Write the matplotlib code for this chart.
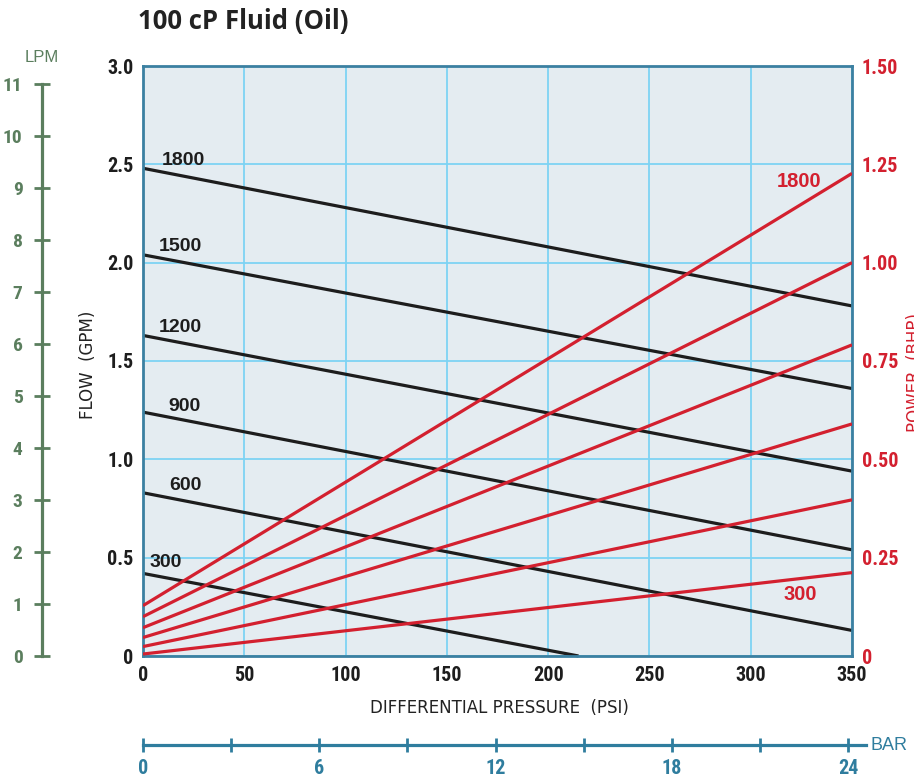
import matplotlib
matplotlib.use("Agg")
import matplotlib.pyplot as plt
from matplotlib import font_manager

# ---------------------------- Data -----------------------------------
speeds = [1800, 1500, 1200, 900, 600, 300]          # RPM for each curve pair
flow_psi_end = [350, 350, 350, 350, 350, 215]       # 300 rpm flow hits zero early
flow_start = [2.48, 2.04, 1.63, 1.24, 0.83, 0.42]   # GPM at 0 psi
flow_end = [1.78, 1.36, 0.94, 0.54, 0.13, 0.0]      # GPM at end psi
power_start = [0.128, 0.100, 0.072, 0.047, 0.024, 0.005]  # BHP at 0 psi
power_end = [1.227, 1.000, 0.791, 0.590, 0.397, 0.212]    # BHP at 350 psi
red_labeled = [1800, 300]

psi_ticks = [0, 50, 100, 150, 200, 250, 300, 350]
gpm_ticks = [0, 0.5, 1.0, 1.5, 2.0, 2.5, 3.0]
gpm_labels = ["0", "0.5", "1.0", "1.5", "2.0", "2.5", "3.0"]
bhp_ticks = [0, 0.25, 0.5, 0.75, 1.0, 1.25, 1.5]
bhp_labels = ["0", "0.25", "0.50", "0.75", "1.00", "1.25", "1.50"]
lpm_ticks = list(range(0, 12))
bar_ticks = [0, 3, 6, 9, 12, 15, 18, 21, 24]
bar_labels = ["0", "", "6", "", "12", "", "18", "", "24"]

LPM_PER_GPM = 3.785
PSI_PER_BAR = 14.504

# ---------------------------- Style ----------------------------------
RED = "#d3202f"
BLACK = "#1d1d1d"
GREEN = "#5b7e5e"
BLUE = "#2f7d9e"
SPINE = "#3b80a1"
GRID = "#7dd3f4"
BG = "#e4ecf1"

names = {f.name for f in font_manager.fontManager.ttflist}


def pick(cands):
    for c in cands:
        if c in names:
            return c
    return "DejaVu Sans"


COND = pick(["Liberation Sans Narrow", "Roboto Condensed", "DejaVu Sans Condensed",
             "Open Sans Condensed", "Roboto", "Liberation Sans"])
SANS = pick(["Liberation Sans"])
TITLE_FONT = pick(["Open Sans", "Lato"])

W, H = 914, 781


def fx(px):
    return px / W


def fy(py):
    return 1 - py / H


fig = plt.figure(figsize=(W / 100, H / 100), dpi=100)

# ----- main axes (flow) -----
ax = fig.add_axes([fx(143), fy(656), 709 / W, 590 / H])
ax.set_facecolor(BG)
ax.set_xlim(0, 350)
ax.set_ylim(0, 3.0)
ax.set_xticks(psi_ticks)
ax.set_yticks(gpm_ticks)
ax.set_yticklabels(gpm_labels)
ax.grid(True, color=GRID, lw=1.3)
ax.set_axisbelow(True)
for s in ax.spines.values():
    s.set_color(SPINE)
    s.set_linewidth(2.0)
ax.tick_params(length=0, pad=7, labelsize=14.5, labelcolor=BLACK)
for lab in ax.get_xticklabels() + ax.get_yticklabels():
    lab.set_fontfamily(COND)
    lab.set_fontweight("bold")

for rpm, p1, f0, f1 in zip(speeds, flow_psi_end, flow_start, flow_end):
    ax.plot([0, p1], [f0, f1], color=BLACK, lw=2.3, solid_capstyle="butt", clip_on=False)

black_dx = [19, 16, 16, 25, 26, 7]
black_dy = [8, 8, 8, 6, 7, 11]
for rpm, f0, dx, dy in zip(speeds, flow_start, black_dx, black_dy):
    ax.annotate(str(rpm), (0, f0), xytext=(dx, dy), textcoords="offset pixels",
                ha="left", va="center", fontsize=14, fontweight="bold",
                family=SANS, color=BLACK)

# ----- power axes -----
ax2 = ax.twinx()
ax2.set_ylim(0, 1.5)
ax2.set_yticks(bhp_ticks)
ax2.set_yticklabels(bhp_labels)
ax2.tick_params(length=0, pad=7, labelsize=14.5, labelcolor=RED)
for lab in ax2.get_yticklabels():
    lab.set_fontfamily(COND)
    lab.set_fontweight("bold")
for s in ax2.spines.values():
    s.set_visible(False)

for rpm, b0, b1 in zip(speeds, power_start, power_end):
    ax2.plot([0, 350], [b0, b1], color=RED, lw=2.3, solid_capstyle="butt")

red_off = {1800: (-31, -8), 300: (-35, -22)}
for rpm, b1 in zip(speeds, power_end):
    if rpm in red_labeled:
        dx, dy = red_off[rpm]
        ax2.annotate(str(rpm), (350, b1), xytext=(dx, dy), textcoords="offset pixels",
                     ha="right", va="center", fontsize=14.5, fontweight="bold",
                     family=SANS, color=RED)

# ----- LPM scale -----
axl = fig.add_axes([fx(42), fy(656), 0.001, 590 / H])
axl.patch.set_visible(False)
axl.set_ylim(0, 3.0 * LPM_PER_GPM)
axl.set_xticks([])
axl.set_yticks(lpm_ticks)
for k in ("top", "right", "bottom"):
    axl.spines[k].set_visible(False)
axl.spines["left"].set_bounds(0, 11)
axl.spines["left"].set_color(GREEN)
axl.spines["left"].set_linewidth(2.3)
axl.tick_params(axis="y", direction="inout", length=12, width=2, color=GREEN,
                pad=8, labelsize=14, labelcolor=GREEN)
for lab in axl.get_yticklabels():
    lab.set_fontfamily(COND)
    lab.set_fontweight("bold")

# ----- BAR scale -----
axb = fig.add_axes([fx(143), fy(745), 709 / W, 0.001])
axb.patch.set_visible(False)
axb.set_xlim(0, 350 / PSI_PER_BAR)
axb.set_yticks([])
axb.set_xticks(bar_ticks)
axb.set_xticklabels(bar_labels)
for k in ("top", "right", "left"):
    axb.spines[k].set_visible(False)
axb.spines["bottom"].set_bounds(0, 24.6)
axb.spines["bottom"].set_color(BLUE)
axb.spines["bottom"].set_linewidth(2.3)
axb.tick_params(axis="x", direction="inout", length=10, width=2, color=BLUE,
                pad=5, labelsize=14.5, labelcolor=BLUE)
for lab in axb.get_xticklabels():
    lab.set_fontfamily(COND)
    lab.set_fontweight("bold")

# ----- texts -----
fig.text(fx(243), fy(21), "100 cP Fluid (Oil)", ha="center", va="center",
         fontsize=18.5, fontweight="bold", family=TITLE_FONT, color="#222222")
fig.text(fx(42), fy(57), "LPM", ha="center", va="center", fontsize=12,
         family=SANS, color=GREEN)
fig.text(fx(88), fy(365), "FLOW  (GPM)", rotation=90, ha="center", va="center",
         fontsize=12, color="#222222")
fig.text(fx(499), fy(708), "DIFFERENTIAL PRESSURE  (PSI)", ha="center", va="center",
         fontsize=12, color="#222222")
fig.text(fx(906), fy(372), "POWER  (BHP)", rotation=90, ha="left", va="center",
         fontsize=12, color=RED)
fig.text(fx(871), fy(746), "BAR", ha="left", va="center", fontsize=13,
         family=SANS, color=BLUE)

fig.savefig("out.png", dpi=100)
